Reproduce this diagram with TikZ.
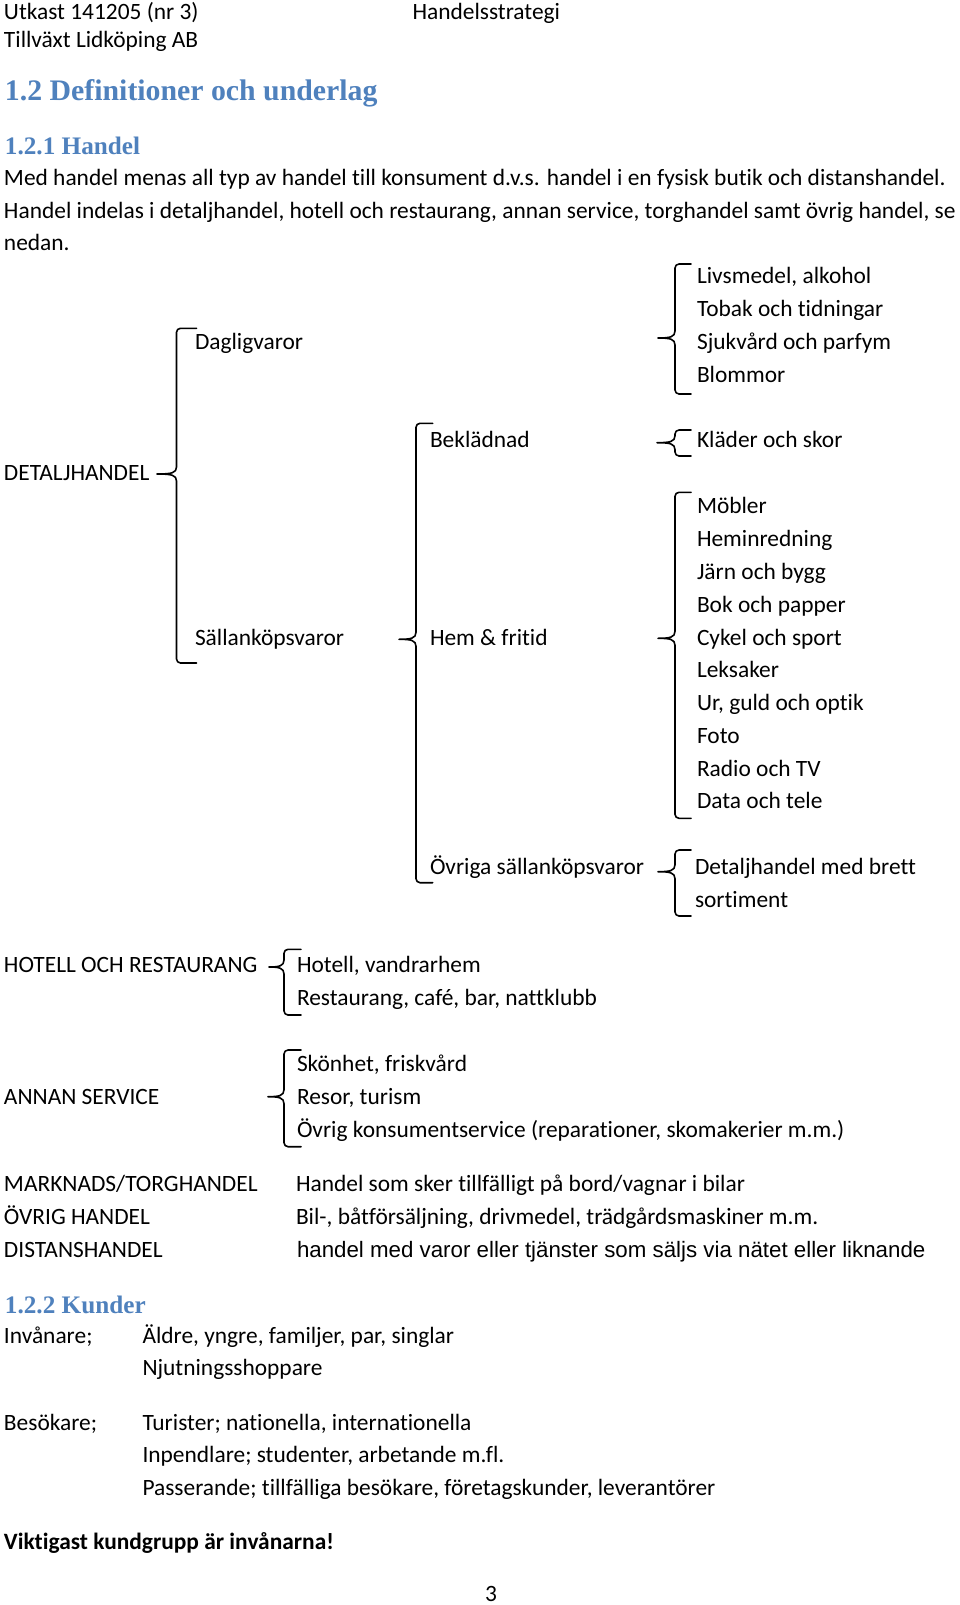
\documentclass[tikz,border=0pt]{standalone}
\usepackage{fontspec}
\setmainfont{Carlito}[Ligatures=NoCommon]
\newfontfamily\headfont{Liberation Serif}
\newfontfamily\arialfont{Liberation Sans}
\definecolor{headblue}{RGB}{79,129,189}
\newcommand\bodyfont{\fontsize{23.4}{28}\selectfont}
\tikzset{
  txt/.style={anchor=base west, inner sep=0pt, outer sep=0pt, font=\bodyfont},
  boldtxt/.style={txt, font=\bodyfont\bfseries},
  arialtxt/.style={txt, font=\arialfont\fontsize{22.3}{27}\selectfont},
  hone/.style={txt, font=\headfont\bfseries\fontsize{29.8}{34}\selectfont, text=headblue},
  htwo/.style={txt, font=\headfont\bfseries\fontsize{25.2}{30}\selectfont, text=headblue},
  bracestroke/.style={line width=1.6pt, line join=round, line cap=round},
}
% #1 vertical x, #2 top y, #3 tip y, #4 bottom y, #5 tip x, #6 hook x
\newcommand\curly[6]{%
  \draw[bracestroke] (#6,#2) -- ({#1+4},#2) to[out=180,in=90] (#1,{#2+4})
    -- (#1,{#3-7}) .. controls (#1,{#3-1}) and ({#1-5},#3) .. (#5,#3)
    .. controls ({#1-5},#3) and (#1,{#3+1}) .. (#1,{#3+7})
    -- (#1,{#4-4}) to[out=-90,in=180] ({#1+4},#4) -- (#6,#4);}
\begin{document}
\begin{tikzpicture}[x=1pt,y=-1pt]
\fill[white] (0,0) rectangle (960,1605);
\useasboundingbox (0,0) rectangle (960,1605);

% header
\node[txt] (hdrA) at (4,19.5) {Utkast 141205 (nr 3)};
\node[txt] (hdrB) at (412.5,19.5) {Handelsstrategi};
\node[txt] (hdrC) at (4,48) {Tillväxt Lidköping AB};

\node[hone] (h12) at (5,101) {1.2 Definitioner och underlag};
\node[htwo] (h121) at (5,155) {1.2.1 Handel};
\node[txt] (p1) at (4,186) {Med handel menas all typ av handel till konsument d.v.s. handel i en fysisk butik och distanshandel.};
\node[txt] (p2) at (4,219) {Handel indelas i detaljhandel, hotell och restaurang, annan service, torghandel samt övrig handel, se};
\node[txt] (p3) at (4,251) {nedan.};

% DETALJHANDEL tree
\node[txt] (detalj) at (4,480.4) {DETALJHANDEL};
\node[txt] (dagl) at (195,349.3) {Dagligvaror};
\node[txt] (salln) at (195,645.1) {Sällanköpsvaror};

\node[txt] (livs) at (697,283.8) {Livsmedel, alkohol};
\node[txt] (tobak) at (697,316.6) {Tobak och tidningar};
\node[txt] (sjuk) at (697,349.3) {Sjukvård och parfym};
\node[txt] (blom) at (697,382.1) {Blommor};

\node[txt] (bekl) at (430,447.6) {Beklädnad};
\node[txt] (hem) at (430,645.1) {Hem \& fritid};
\node[txt] (ovriga) at (430,874.4) {Övriga sällanköpsvaror};

\node[txt] (klader) at (697,447.6) {Kläder och skor};

\node[txt] (mob) at (697,513.1) {Möbler};
\node[txt] (hemi) at (697,546.9) {Heminredning};
\node[txt] (jarn) at (697,579.6) {Järn och bygg};
\node[txt] (bok) at (697,612.4) {Bok och papper};
\node[txt] (cykel) at (697,645.1) {Cykel och sport};
\node[txt] (leks) at (697,677.9) {Leksaker};
\node[txt] (ur) at (697,710.6) {Ur, guld och optik};
\node[txt] (foto) at (697,743.4) {Foto};
\node[txt] (radio) at (697,776.1) {Radio och TV};
\node[txt] (data) at (697,808.9) {Data och tele};

\node[txt] (brett) at (695,874.4) {Detaljhandel med brett};
\node[txt] (sort) at (695,907.2) {sortiment};

% braces of the tree
\curly{176.5}{328.3}{474}{663}{157}{196.5}
\curly{416}{423.3}{639.3}{882.7}{399}{432.7}
\curly{675}{264}{338}{394}{658}{691}
\curly{675}{430}{442.7}{456}{657}{691}
\curly{675}{492.3}{638.3}{818.3}{658}{691}
\curly{675}{850}{871.7}{916}{658}{691}

% HOTELL OCH RESTAURANG
\node[txt] (hotrest) at (4,972.7) {HOTELL OCH RESTAURANG};
\node[txt] (hotell) at (297,972.7) {Hotell, vandrarhem};
\node[txt] (rest) at (297,1005.4) {Restaurang, café, bar, nattklubb};
\curly{284}{949.3}{967}{1015}{269}{301}

% ANNAN SERVICE
\node[txt] (annan) at (4,1104.7) {ANNAN SERVICE};
\node[txt] (skon) at (297,1071.9) {Skönhet, friskvård};
\node[txt] (resor) at (297,1104.7) {Resor, turism};
\node[txt] (ovrkons) at (297,1137.4) {Övrig konsumentservice (reparationer, skomakerier m.m.)};
\curly{284}{1050}{1096.7}{1146.7}{268}{301}

% other trade
\node[txt] (markn) at (4,1191.7) {MARKNADS/TORGHANDEL};
\node[txt] (markntxt) at (296,1191.7) {Handel som sker tillfälligt på bord/vagnar i bilar};
\node[txt] (ovrh) at (4,1224.4) {ÖVRIG HANDEL};
\node[txt] (ovrhtxt) at (296,1224.4) {Bil-, båtförsäljning, drivmedel, trädgårdsmaskiner m.m.};
\node[txt] (dist) at (4,1257.2) {DISTANSHANDEL};
\node[arialtxt] (disttxt) at (297,1257.2) {handel med varor eller tjänster som säljs via nätet eller liknande};

% 1.2.2 Kunder
\node[htwo] (h122) at (5,1313) {1.2.2 Kunder};
\node[txt] (invan) at (4,1343.2) {Invånare;};
\node[txt] (aldre) at (142.5,1343.2) {Äldre, yngre, familjer, par, singlar};
\node[txt] (njut) at (142.5,1375.9) {Njutningsshoppare};
\node[txt] (besok) at (4,1430.2) {Besökare;};
\node[txt] (turist) at (142.5,1430.2) {Turister; nationella, internationella};
\node[txt] (inpend) at (142.5,1462.9) {Inpendlare; studenter, arbetande m.fl.};
\node[txt] (passer) at (142.5,1495.7) {Passerande; tillfälliga besökare, företagskunder, leverantörer};
\node[boldtxt] (vikt) at (4,1549.9) {Viktigast kundgrupp är invånarna!};
\node[txt] (pagenr) at (485,1601) {3};
\end{tikzpicture}
\end{document}
